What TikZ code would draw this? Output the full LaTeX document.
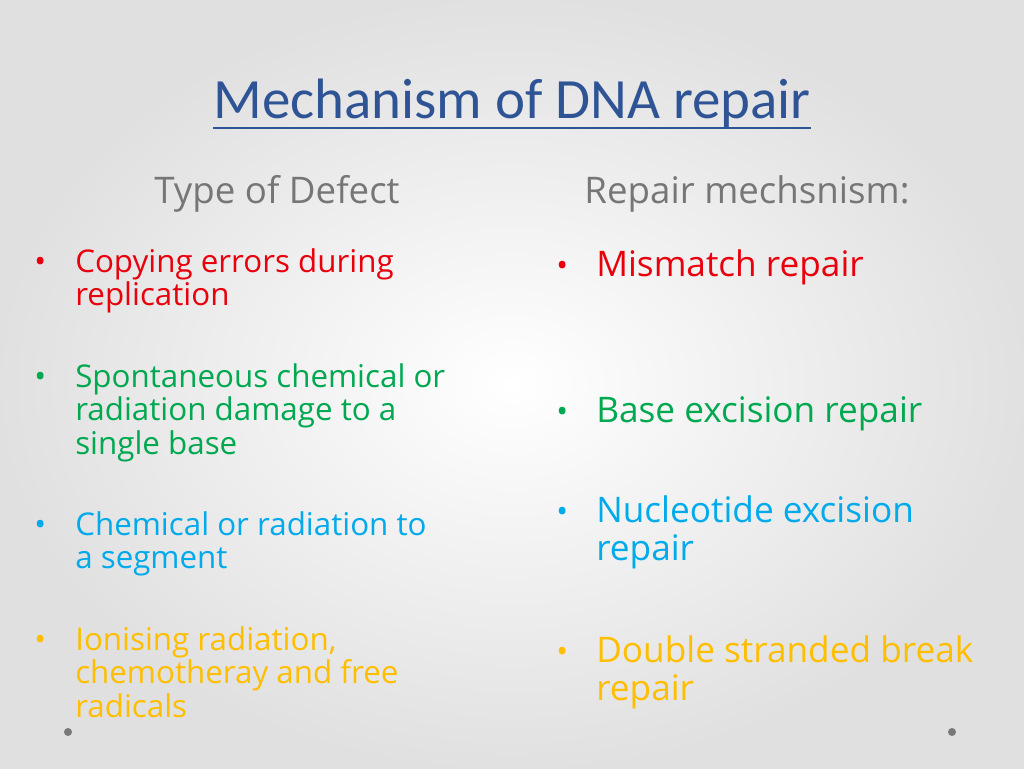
\documentclass[tikz,border=0pt]{standalone}
\usepackage{fontspec}
\setmainfont{Open Sans}
\newfontfamily\titlefont{Carlito}
\definecolor{cred}{RGB}{232,0,12}
\definecolor{cgreen}{RGB}{0,168,80}
\definecolor{cblue}{RGB}{0,170,235}
\definecolor{cyel}{RGB}{255,190,0}
\definecolor{ctitle}{RGB}{47,84,150}
\definecolor{cgray}{RGB}{118,118,118}
\definecolor{cdot}{RGB}{120,120,120}
\newcommand\mylines[1]{\begin{tabular}[t]{@{}l@{}}#1\end{tabular}}
\tikzset{
 lt/.style={anchor=base west,align=left,font=\fontsize{23.5}{25}\selectfont,inner sep=0pt},
 rt/.style={anchor=base west,align=left,font=\fontsize{26.4}{28.5}\selectfont,inner sep=0pt},
 hd/.style={anchor=base,font=\fontsize{27.5}{30}\selectfont,text=cgray,inner sep=0pt},
 dot/.style={circle,fill=cdot,inner sep=0pt,minimum size=6pt}
}
\begin{document}
\begin{tikzpicture}[x=0.75pt,y=-0.75pt]
\shade[inner color=white,outer color=black!12] (0,0) rectangle (1024,768);
\useasboundingbox (0,0) rectangle (1024,768);
\node[anchor=base,inner sep=0pt,font=\titlefont\fontsize{42.7}{46}\selectfont,text=ctitle] (title) at (512,118) {Mechanism of DNA repair};
\draw[ctitle,line width=1.5pt] ([yshift=-7.5pt]title.base west) -- ([yshift=-7.5pt]title.base east);
\node[hd] (h1) at (277,203) {Type of Defect};
\node[hd] (h2) at (747,203) {Repair mechsnism:};
% left
\node[lt,text=cred] (b1) at (34,272) {\textbullet};
\node[lt,text=cred] (l1) at (75,272) {\mylines{Copying errors during\\replication}};
\node[lt,text=cgreen] (b2) at (34,387) {\textbullet};
\node[lt,text=cgreen] (l2) at (75,387) {\mylines{Spontaneous chemical or\\radiation damage to a\\single base}};
\node[lt,text=cblue] (b3) at (34,535) {\textbullet};
\node[lt,text=cblue] (l3) at (75,535) {\mylines{Chemical or radiation to\\a segment}};
\node[lt,text=cyel] (b4) at (34,650) {\textbullet};
\node[lt,text=cyel] (l4) at (75,650) {\mylines{Ionising radiation,\\chemotheray and free\\radicals}};
% right
\node[lt,text=cred] (c1) at (556,276) {\textbullet};
\node[rt,text=cred] (r1) at (596,276) {\mylines{Mismatch repair}};
\node[lt,text=cgreen] (c2) at (556,422) {\textbullet};
\node[rt,text=cgreen] (r2) at (596,422) {\mylines{Base excision repair}};
\node[lt,text=cblue] (c3) at (556,522) {\textbullet};
\node[rt,text=cblue] (r3) at (596,522) {\mylines{Nucleotide excision\\repair}};
\node[lt,text=cyel] (c4) at (556,662) {\textbullet};
\node[rt,text=cyel] (r4) at (596,662) {\mylines{Double stranded break\\repair}};
\node[dot] (d1) at (68,732) {};
\node[dot] (d2) at (952,732) {};
\end{tikzpicture}
\end{document}
